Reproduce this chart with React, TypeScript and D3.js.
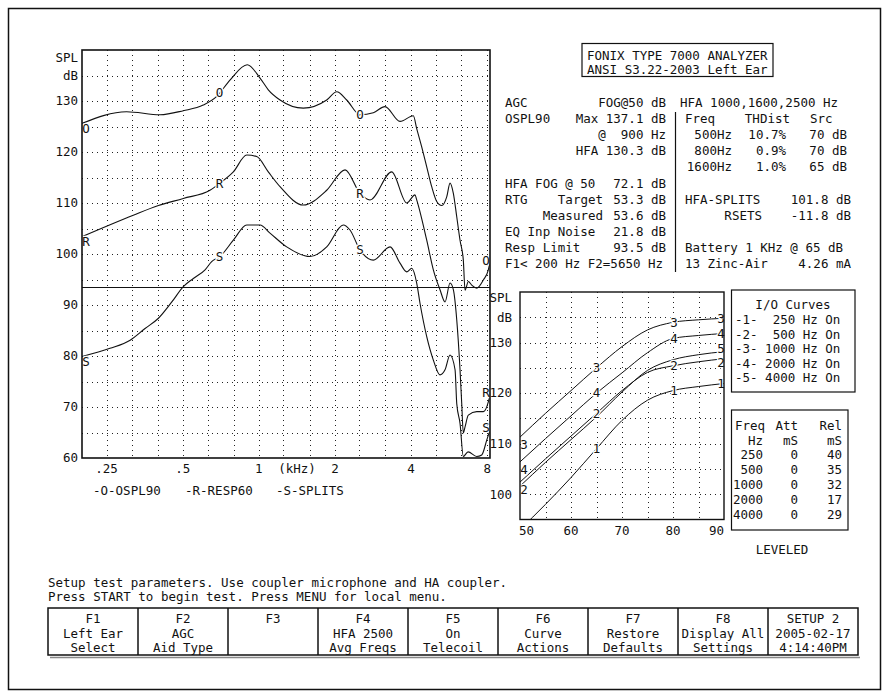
import { useEffect, useRef } from "react";
import * as d3 from "d3";

const FONT = "'DejaVu Sans Mono', 'Liberation Mono', monospace";
const INK = "#111";

// Frequency response curves (Hz, dB SPL)
const OSPL90_HZ = [200, 300, 407, 503, 603, 682, 769, 900, 1011, 1090, 1213, 1499, 1855, 2032, 2225, 2512, 2835, 3153, 3615, 4081, 4208, 4404, 4610, 4824, 5050, 5285, 5530, 5700, 5874, 6058, 6242, 6432, 6534, 6732, 6946, 7266, 7718, 8076, 8200];
const OSPL90_DB = [125.6, 127.9, 127.3, 128.1, 129.2, 130.9, 134.1, 137.1, 134.5, 132.2, 130.2, 128.6, 130.2, 131.8, 130.2, 127.3, 127.7, 128.9, 126.0, 127.1, 124.6, 121.0, 117.1, 113.2, 110.3, 109.5, 111.2, 113.9, 111.9, 107.3, 102.7, 98.8, 92.9, 94.6, 93.9, 93.3, 94.9, 96.9, 98.4];

const RESP60_HZ = [200, 319, 401, 503, 641, 702, 793, 896, 981, 1090, 1213, 1499, 1855, 2192, 2512, 2751, 3352, 3842, 4144, 4208, 4610, 4896, 5202, 5445, 5700, 5874, 6058, 6242, 6338, 6432, 6534, 6732, 7266, 7718, 8076, 8200];
const RESP60_DB = [103.4, 107.6, 109.5, 110.9, 112.5, 113.9, 116.1, 119.4, 119.1, 116.1, 113.2, 109.6, 112.5, 116.5, 111.9, 110.6, 116.1, 110.0, 111.6, 110.6, 102.7, 96.9, 93.0, 90.6, 94.3, 93.0, 87.1, 77.3, 70.8, 64.9, 66.1, 68.4, 69.1, 69.1, 71.0, 72.4];

const SPLITS_HZ = [200, 258, 310, 355, 401, 453, 503, 551, 613, 651, 702, 793, 896, 1011, 1107, 1289, 1593, 1855, 2157, 2293, 2512, 2835, 3301, 3615, 3842, 4023, 4208, 4338, 4610, 4896, 5202, 5445, 5700, 5966, 6058, 6242, 6432, 6714, 7266, 7606, 7960, 8200];
const SPLITS_DB = [79.9, 81.5, 83.1, 85.4, 87.4, 90.6, 93.6, 95.2, 96.9, 98.5, 99.5, 102.7, 105.7, 105.7, 104.1, 101.4, 99.5, 101.4, 105.7, 104.7, 100.8, 98.8, 101.4, 98.2, 96.5, 97.2, 94.3, 90.3, 83.8, 79.2, 76.3, 77.3, 80.2, 77.3, 70.7, 66.8, 60.3, 61.2, 60.3, 60.6, 63.5, 65.5];

const RESP_LIMIT_DB = 93.5;
const FREQ_TICKS = [250, 500, 1000, 2000, 4000, 8000];
const FREQ_TICK_LABELS = [".25", ".5", "1", "2", "4", "8"];
const THIRD_OCTAVES = [250, 315, 400, 500, 630, 800, 1000, 1250, 1600, 2000, 2500, 3150, 4000, 5000, 6300, 8000];
const SPL_TICKS = [60, 70, 80, 90, 100, 110, 120, 130];
const MID_LABEL_HZ = [700, 2512];

// I/O curves (input dB SPL -> output dB SPL)
const IO_INPUT_DB = [50, 55, 60, 65, 70, 75, 80, 85, 90];
const IO_250 = [93.0, 98.0, 103.3, 109.0, 114.6, 118.6, 120.5, 121.3, 121.9];
const IO_500 = [102.4, 107.0, 111.5, 116.0, 120.5, 124.1, 125.4, 126.2, 126.8];
const IO_1000 = [111.3, 116.0, 120.5, 125.0, 129.2, 132.5, 134.0, 134.5, 134.8];
const IO_2000 = [106.4, 111.0, 115.5, 120.0, 124.0, 128.0, 130.8, 131.4, 131.8];
const IO_4000 = [101.6, 106.3, 110.8, 115.3, 120.2, 124.5, 126.6, 127.6, 128.2];
const IO_X_TICKS = [50, 60, 70, 80, 90];
const IO_Y_TICKS = [100, 110, 120, 130];
const IO_CURVE_HZ = [250, 500, 1000, 2000, 4000];

// attack / release table
const AR_FREQS = ["250", "500", "1000", "2000", "4000"];
const AR_ATT_MS = [0, 0, 0, 0, 0];
const AR_REL_MS = [40, 35, 32, 17, 29];

const FKEYS = [
  ["F1", "Left Ear", "Select"],
  ["F2", "AGC", "Aid Type"],
  ["F3", "", ""],
  ["F4", "HFA 2500", "Avg Freqs"],
  ["F5", "On", "Telecoil"],
  ["F6", "Curve", "Actions"],
  ["F7", "Restore", "Defaults"],
  ["F8", "Display All", "Settings"],
  ["SETUP 2", "2005-02-17", "4:14:40PM"],
];

type Pt = [number, number];
const zip = (a: number[], b: number[]): Pt[] => a.map((v, i) => [v, b[i]]);

// value of a curve at f, interpolated on the log-frequency axis
function valueAt(hz: number[], db: number[], f: number) {
  const i = Math.max(1, Math.min(hz.length - 1, d3.bisectLeft(hz, f)));
  const t = (Math.log(f) - Math.log(hz[i - 1])) / (Math.log(hz[i]) - Math.log(hz[i - 1]));
  return db[i - 1] + t * (db[i] - db[i - 1]);
}

export default function App() {
  const svgRef = useRef<SVGSVGElement>(null);

  useEffect(() => {
    if (!svgRef.current) return;
    const svg = d3.select(svgRef.current);
    svg.selectAll("*").remove();
    svg.attr("font-family", FONT).attr("font-size", 12.5).attr("fill", INK);

    const put = (g: any, x: number, y: number, s: string, anchor = "start") =>
      g.append("text").attr("x", x).attr("y", y).attr("dy", "0.35em").attr("text-anchor", anchor)
        .style("white-space", "pre").text(s);

    const box = (g: any, x: number, y: number, w: number, h: number, sw = 1.2) =>
      g.append("rect").attr("x", x).attr("y", y).attr("width", w).attr("height", h)
        .attr("fill", "none").attr("stroke", INK).attr("stroke-width", sw);

    // outer frame
    box(svg, 8.5, 8.5, 872, 681, 1.5);

    // ---------- main frequency response chart ----------
    const x = d3.scaleLog().domain([200, 8200]).range([82, 490]);
    const y = d3.scaleLinear().domain([60, 140]).range([458, 50]);
    const main = svg.append("g");

    main.append("g").selectAll("line").data(d3.range(65, 140, 5)).join("line")
      .attr("x1", 82).attr("x2", 490)
      .attr("y1", (d) => Math.round(y(d)) + 0.5).attr("y2", (d) => Math.round(y(d)) + 0.5)
      .attr("stroke", "#222").attr("stroke-dasharray", "1 4");
    main.append("g").selectAll("line").data(THIRD_OCTAVES).join("line")
      .attr("y1", 50).attr("y2", 458)
      .attr("x1", (d) => Math.round(x(d)) + 0.5).attr("x2", (d) => Math.round(x(d)) + 0.5)
      .attr("stroke", "#222").attr("stroke-dasharray", "1 4");

    main.append("line").attr("x1", 82).attr("x2", 490)
      .attr("y1", Math.round(y(RESP_LIMIT_DB)) + 0.5).attr("y2", Math.round(y(RESP_LIMIT_DB)) + 0.5)
      .attr("stroke", INK).attr("stroke-width", 1.2);

    main.append("clipPath").attr("id", "mainClip").append("rect")
      .attr("x", 82).attr("y", 50).attr("width", 408).attr("height", 408);

    const line = d3.line<Pt>().x((d) => x(d[0])).y((d) => y(d[1])).curve(d3.curveMonotoneX);
    const series: [string, number[], number[]][] = [
      ["O", OSPL90_HZ, OSPL90_DB],
      ["R", RESP60_HZ, RESP60_DB],
      ["S", SPLITS_HZ, SPLITS_DB],
    ];
    series.forEach(([, hz, db]) => {
      main.append("path").datum(zip(hz, db)).attr("d", line).attr("clip-path", "url(#mainClip)")
        .attr("fill", "none").attr("stroke", INK).attr("stroke-width", 1.1);
    });

    const letter = (g: any, cx: number, cy: number, s: string) =>
      put(g, cx, cy, s, "middle").attr("stroke", "#fff").attr("stroke-width", 2.5)
        .attr("paint-order", "stroke");

    series.forEach(([tag, hz, db]) => {
      letter(main, 86, y(db[0]) + 5, tag);
      MID_LABEL_HZ.forEach((f) => letter(main, x(f), y(valueAt(hz, db, f)), tag));
      letter(main, 486, Math.max(y(db[db.length - 1]) - 2, 60), tag);
    });

    box(main, 82, 50, 408, 408, 1.6);

    SPL_TICKS.forEach((v) => put(main, 78, y(v), String(v), "end"));
    put(main, 78, 58, "SPL", "end");
    put(main, 78, y(135), "dB", "end");
    FREQ_TICKS.forEach((f, i) => put(main, x(f), 469, FREQ_TICK_LABELS[i], "middle"));
    put(main, 297, 469, "(kHz)", "middle");

    put(main, 93, 491, "-O-OSPL90");
    put(main, 185, 491, "-R-RESP60");
    put(main, 276, 491, "-S-SPLITS");

    // ---------- header and measurement text ----------
    const info = svg.append("g");
    box(info, 582, 43.5, 191, 33);
    put(info, 587, 55.5, "FONIX TYPE 7000 ANALYZER");
    put(info, 587, 70, "ANSI S3.22-2003 Left Ear");

    const row = (i: number) => 102.7 + i * 16.1;
    const L0 = 505, LR = 666;
    put(info, L0, row(0), "AGC");
    put(info, LR, row(0), "FOG@50 dB", "end");
    put(info, L0, row(1), "OSPL90");
    put(info, LR, row(1), "Max 137.1 dB", "end");
    put(info, LR, row(2), "@  900 Hz", "end");
    put(info, LR, row(3), "HFA 130.3 dB", "end");
    put(info, L0, row(5), "HFA FOG @ 50");
    put(info, LR, row(5), "72.1 dB", "end");
    put(info, L0, row(6), "RTG");
    put(info, 603, row(6), "Target", "end");
    put(info, LR, row(6), "53.3 dB", "end");
    put(info, 603, row(7), "Measured", "end");
    put(info, LR, row(7), "53.6 dB", "end");
    put(info, L0, row(8), "EQ Inp Noise");
    put(info, LR, row(8), "21.8 dB", "end");
    put(info, L0, row(9), "Resp Limit");
    put(info, LR, row(9), "93.5 dB", "end");
    put(info, L0, row(10), "F1< 200 Hz F2=5650 Hz");

    info.append("line").attr("x1", 675.5).attr("x2", 675.5).attr("y1", 112).attr("y2", 272)
      .attr("stroke", INK).attr("stroke-width", 1.2);

    const R0 = 685, RR = 851;
    put(info, 680, row(0), "HFA 1000,1600,2500 Hz");
    put(info, R0, row(1), "Freq");
    put(info, 790, row(1), "THDist", "end");
    put(info, 810, row(1), "Src");
    const thd = [["500Hz", "10.7%", "70 dB"], ["800Hz", "0.9%", "70 dB"], ["1600Hz", "1.0%", "65 dB"]];
    thd.forEach((r, i) => {
      put(info, 732, row(2 + i), r[0], "end");
      put(info, 786, row(2 + i), r[1], "end");
      put(info, 847, row(2 + i), r[2], "end");
    });
    put(info, R0, row(6), "HFA-SPLITS");
    put(info, RR, row(6), "101.8 dB", "end");
    put(info, 762, row(7), "RSETS", "end");
    put(info, RR, row(7), "-11.8 dB", "end");
    put(info, R0, row(9), "Battery 1 KHz @ 65 dB");
    put(info, R0, row(10), "13 Zinc-Air");
    put(info, RR, row(10), "4.26 mA", "end");

    // ---------- I/O chart ----------
    const xi = d3.scaleLinear().domain([50, 90]).range([520, 724]);
    const yi = d3.scaleLinear().domain([95, 140]).range([519.5, 292]);
    const io = svg.append("g");

    io.append("g").selectAll("line").data(d3.range(100, 140, 5)).join("line")
      .attr("x1", 520).attr("x2", 724)
      .attr("y1", (d) => Math.round(yi(d)) + 0.5).attr("y2", (d) => Math.round(yi(d)) + 0.5)
      .attr("stroke", "#222").attr("stroke-dasharray", "1 4");
    io.append("g").selectAll("line").data(d3.range(55, 90, 5)).join("line")
      .attr("y1", 292).attr("y2", 519.5)
      .attr("x1", (d) => Math.round(xi(d)) + 0.5).attr("x2", (d) => Math.round(xi(d)) + 0.5)
      .attr("stroke", "#222").attr("stroke-dasharray", "1 4");

    io.append("clipPath").attr("id", "ioClip").append("rect")
      .attr("x", 520).attr("y", 292).attr("width", 204).attr("height", 227.5);

    const ioLine = d3.line<Pt>().x((d) => xi(d[0])).y((d) => yi(d[1])).curve(d3.curveMonotoneX);
    const ioSeries: [string, number[]][] = [
      ["1", IO_250], ["5", IO_4000], ["2", IO_500], ["4", IO_2000], ["3", IO_1000],
    ];
    ioSeries.forEach(([, out]) => {
      io.append("path").datum(zip(IO_INPUT_DB, out)).attr("d", ioLine).attr("clip-path", "url(#ioClip)")
        .attr("fill", "none").attr("stroke", INK).attr("stroke-width", 1);
    });
    ioSeries.forEach(([tag, out]) => {
      // curve 5 sits on top of curve 2, its marks only show at the right end
      if (tag === "5") {
        letter(io, 721, yi(out[8]) - 3, tag);
        return;
      }
      if (out[0] >= 95) letter(io, 524, yi(out[0]) + 8, tag);
      letter(io, xi(65), yi(out[3]), tag);
      letter(io, xi(80) + 1, yi(out[6]), tag);
      letter(io, 721, yi(out[8]) + (tag === "2" ? 4 : 0), tag);
    });

    box(io, 520, 292, 204, 227.5, 1.4);
    IO_Y_TICKS.forEach((v) => put(io, 512, yi(v), String(v), "end"));
    put(io, 512, 298, "SPL", "end");
    put(io, 512, yi(135), "dB", "end");
    IO_X_TICKS.forEach((v, i) => {
      const anchor = i === 0 ? "start" : i === IO_X_TICKS.length - 1 ? "end" : "middle";
      const px = i === 0 ? 519 : i === IO_X_TICKS.length - 1 ? 724 : xi(v);
      put(io, px, 531, String(v), anchor);
    });

    // I/O curve legend
    box(io, 731.5, 290, 123.5, 102);
    put(io, 793, 305, "I/O Curves", "middle");
    IO_CURVE_HZ.forEach((f, i) => {
      put(io, 735, 320 + i * 14.5, `-${i + 1}- ${String(f).padStart(4, " ")} Hz On`);
    });

    // attack / release table
    box(io, 731.5, 410, 116.5, 120);
    put(io, 735, 426, "Freq");
    put(io, 798, 426, "Att", "end");
    put(io, 842, 426, "Rel", "end");
    put(io, 763, 440.5, "Hz", "end");
    put(io, 798, 440.5, "mS", "end");
    put(io, 842, 440.5, "mS", "end");
    AR_FREQS.forEach((f, i) => {
      const yy = 455 + i * 14.8;
      put(io, 763, yy, f, "end");
      put(io, 798, yy, String(AR_ATT_MS[i]), "end");
      put(io, 842, yy, String(AR_REL_MS[i]), "end");
    });
    put(io, 782, 550, "LEVELED", "middle");

    // ---------- prompt and function key bar ----------
    const foot = svg.append("g");
    put(foot, 48, 583, "Setup test parameters. Use coupler microphone and HA coupler.");
    put(foot, 48, 597, "Press START to begin test. Press MENU for local menu.");

    const kx = d3.scaleLinear().domain([0, FKEYS.length]).range([48, 858]);
    foot.append("line").attr("x1", 50).attr("x2", 860).attr("y1", 657.5).attr("y2", 657.5)
      .attr("stroke", "#888").attr("stroke-width", 1.5);
    box(foot, 48, 608, 810, 47, 1.5);
    FKEYS.forEach((k, i) => {
      if (i > 0) foot.append("line").attr("x1", kx(i)).attr("x2", kx(i)).attr("y1", 608).attr("y2", 655)
        .attr("stroke", INK).attr("stroke-width", 1.5);
      k.forEach((s, j) => put(foot, (kx(i) + kx(i + 1)) / 2, 619 + j * 14.5, s, "middle"));
    });
  }, []);

  return (
    <svg
      ref={svgRef}
      width={889}
      height={698}
      style={{ position: "absolute", left: 0, top: 0, background: "#fff" }}
      role="img"
      aria-label="Fonix 7000 hearing aid analyzer screen"
    />
  );
}
